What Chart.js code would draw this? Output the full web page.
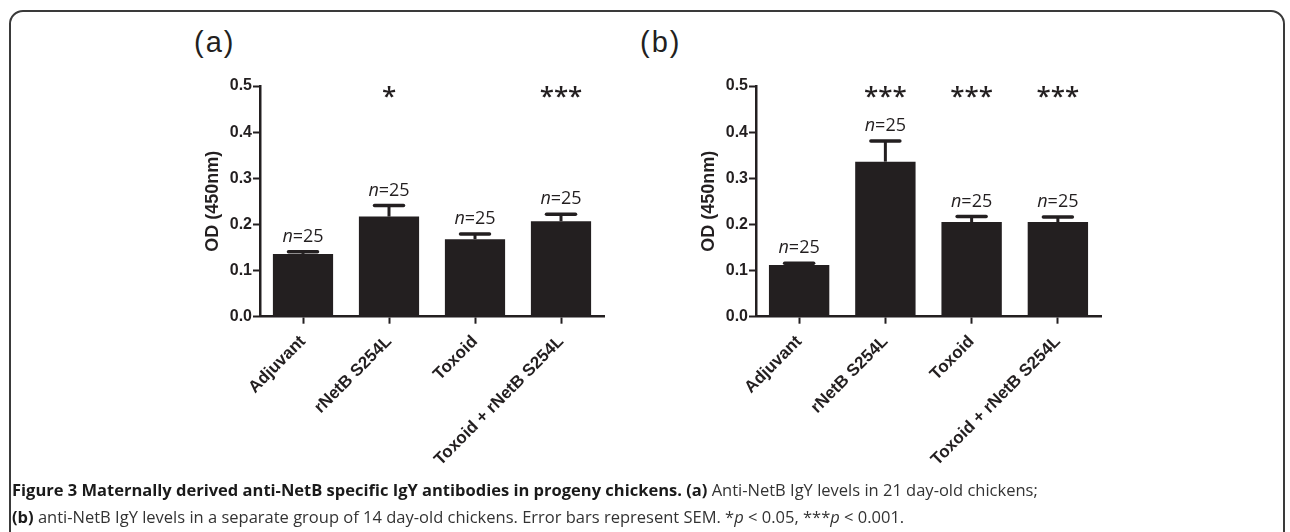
<!DOCTYPE html>
<html>
<head>
<meta charset="utf-8">
<script src="https://cdn.jsdelivr.net/npm/chart.js@4"></script>
<style>
  html, body { margin:0; padding:0; background:#fff; width:1290px; height:532px; overflow:hidden; }
  .frame { position:absolute; left:9px; top:10px; width:1276px; height:560px; border:2px solid #3a3a3a; border-radius:14px; box-sizing:border-box; }
  .ptitle { position:absolute; font-family:"Liberation Sans", Arial, sans-serif; font-size:29px; color:#231f20; letter-spacing:2px; }
  .cv { position:absolute; }
  .caption { position:absolute; left:12px; font-family:"Open Sans", sans-serif; font-size:16.5px; color:#333; white-space:nowrap; }
  .caption b { color:#1a1a1a; }
</style>
</head>
<body>
<div class="frame"></div>
<div class="ptitle" style="left:194px; top:26px;">(a)</div>
<div class="ptitle" style="left:640px; top:26px;">(b)</div>
<div class="cv" style="left:150px; top:60px; width:470px; height:420px;"><canvas id="ca"></canvas></div>
<div class="cv" style="left:646px; top:60px; width:471px; height:420px;"><canvas id="cb"></canvas></div>
<div class="caption" style="top:478px;"><b>Figure 3 Maternally derived anti-NetB specific IgY antibodies in progeny chickens. (a)</b> Anti-NetB IgY levels in 21 day-old chickens;</div>
<div class="caption" style="top:505px;"><b>(b)</b> anti-NetB IgY levels in a separate group of 14 day-old chickens. Error bars represent SEM. *<i>p</i> &lt; 0.05, ***<i>p</i> &lt; 0.001.</div>
<script>
const categories = ['Adjuvant', 'rNetB S254L', 'Toxoid', 'Toxoid + rNetB S254L'];
const meanA = [0.136, 0.217, 0.168, 0.207];
const semA  = [0.005, 0.024, 0.011, 0.015];
const nA    = [25, 25, 25, 25];
const sigA  = ['', '*', '', '***'];
const meanB = [0.112, 0.336, 0.205, 0.205];
const semB  = [0.004, 0.045, 0.012, 0.011];
const nB    = [25, 25, 25, 25];
const sigB  = ['', '***', '***', '***'];
const yTicks = [0, 0.1, 0.2, 0.3, 0.4, 0.5];

const INK = '#231f20';

function annotPlugin(sem, ns, sig) {
  return {
    id: 'annot',
    afterDatasetsDraw(chart) {
      const ctx = chart.ctx;
      const y = chart.scales.y;
      const meta = chart.getDatasetMeta(0);
      const data = chart.data.datasets[0].data;
      ctx.save();
      ctx.strokeStyle = INK;
      ctx.fillStyle = INK;
      meta.data.forEach((bar, i) => {
        const x = bar.x;
        const top = y.getPixelForValue(data[i] + sem[i]);
        const base = bar.y;
        ctx.lineWidth = 3;
        ctx.lineCap = 'butt';
        ctx.beginPath(); ctx.moveTo(x, base); ctx.lineTo(x, top); ctx.stroke();
        ctx.lineWidth = 3.5;
        ctx.lineCap = 'round';
        ctx.beginPath(); ctx.moveTo(x - 14.5, top); ctx.lineTo(x + 14.5, top); ctx.stroke();
        const fItal = 'italic 18px "Open Sans"';
        const fReg = '18px "Open Sans"';
        const rest = '=' + ns[i];
        ctx.font = fItal; const wn = ctx.measureText('n').width;
        ctx.font = fReg; const wr = ctx.measureText(rest).width;
        const x0 = x - (wn + wr) / 2;
        const by = top - 10;
        ctx.textBaseline = 'alphabetic';
        ctx.textAlign = 'left';
        ctx.font = fItal; ctx.fillText('n', x0, by);
        ctx.font = fReg; ctx.fillText(rest, x0 + wn, by);
        if (sig[i]) {
          ctx.font = '600 26px "Open Sans"';
          ctx.textAlign = 'center';
          ctx.fillText(sig[i], x, y.getPixelForValue(0.5) + 19);
        }
      });
      ctx.restore();
    }
  };
}

function makeChart(id, means, sem, ns, sig) {
  return new Chart(document.getElementById(id), {
    type: 'bar',
    data: {
      labels: categories,
      datasets: [{
        data: means,
        backgroundColor: INK,
        borderWidth: 0,
        categoryPercentage: 1,
        barPercentage: 0.7
      }]
    },
    options: {
      responsive: true,
      maintainAspectRatio: false,
      animation: false,
      events: [],
      layout: { padding: { top: 26, right: 16, bottom: 0, left: 0 } },
      plugins: { legend: { display: false }, tooltip: { enabled: false } },
      scales: {
        x: {
          afterFit(s) { s.height = 163.3; },
          grid: { display: true, offset: false, drawOnChartArea: false, drawTicks: true, tickLength: 7, tickWidth: 2, tickColor: INK },
          border: { display: true, width: 2.5, color: INK },
          ticks: { color: INK, font: { family: '"Liberation Sans", Arial', weight: 'bold', size: 17 }, maxRotation: 45, minRotation: 45, padding: 8, autoSkip: false }
        },
        y: {
          min: 0, max: 0.5,
          afterFit(s) { s.width = 110; },
          afterBuildTicks(s) { s.ticks = yTicks.map(v => ({ value: v })); },
          grid: { display: true, drawOnChartArea: false, drawTicks: true, tickLength: 7, tickWidth: 2, tickColor: INK },
          border: { display: true, width: 2.5, color: INK },
          ticks: { color: INK, font: { family: '"Liberation Sans", Arial', weight: 'bold', size: 16 }, padding: 1, callback: v => Number(v).toFixed(1) },
          title: { display: true, text: 'OD (450nm)', color: INK, font: { family: '"Liberation Sans", Arial', weight: 'bold', size: 18 }, padding: { top: 52, bottom: 0 } }
        }
      }
    },
    plugins: [annotPlugin(sem, ns, sig)]
  });
}

makeChart('ca', meanA, semA, nA, sigA);
makeChart('cb', meanB, semB, nB, sigB);
</script>
</body>
</html>
